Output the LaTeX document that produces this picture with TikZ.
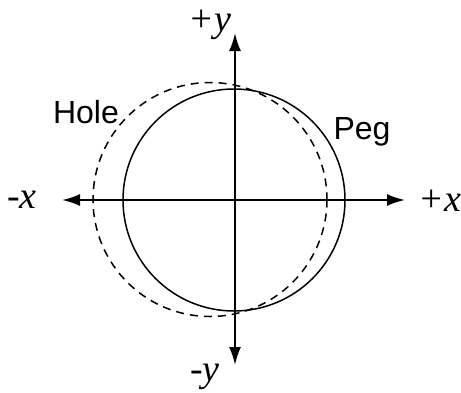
\documentclass[tikz,border=0pt]{standalone}
\usepackage{fontspec}
\setmainfont{Liberation Serif}
\setsansfont{Liberation Sans}
\usetikzlibrary{arrows.meta,positioning}

\begin{document}
\begin{tikzpicture}[
        x=0.5pt, y=-0.5pt,
        every node/.style={inner sep=0pt},
        axis/.style={line width=1pt, {Latex[length=9pt,width=6pt]}-{Latex[length=9pt,width=6pt]}},
        peg/.style={line width=0.75pt},
        hole/.style={line width=0.75pt, dash pattern=on 4pt off 3pt},
        axlbl/.style={font=\fontsize{19}{22}\selectfont\itshape},
        part/.style={font=\fontsize{16}{19}\selectfont\sffamily}
    ]
    \useasboundingbox (0,0) rectangle (461,392);

    % ================= sumbu =========================
    \coordinate (o) at (235,200);
    \coordinate (xneg) at (62,200);
    \coordinate (xpos) at (405,200);
    \coordinate (ypos) at (235,33);
    \coordinate (yneg) at (235,365);
    \draw[axis] (xneg) -- (xpos);
    \draw[axis] (yneg) -- (ypos);

    \node[axlbl] (lxneg) at (22,200) {-x};
    \node[axlbl] (lxpos) at (440,201) {+x};
    \node[axlbl] (lypos) at (210,25) {+y};
    \node[axlbl] (lyneg) at (205,377) {-y};

    % ================= peg dan hole ==================
    \draw[peg] (234,200) circle (111);
    \draw[hole] (210,199.5) circle (117);

    \node[part] (hole) at (86,112) {Hole};
    \node[part] (peg) at (362,132) {Peg};
\end{tikzpicture}
\end{document}
